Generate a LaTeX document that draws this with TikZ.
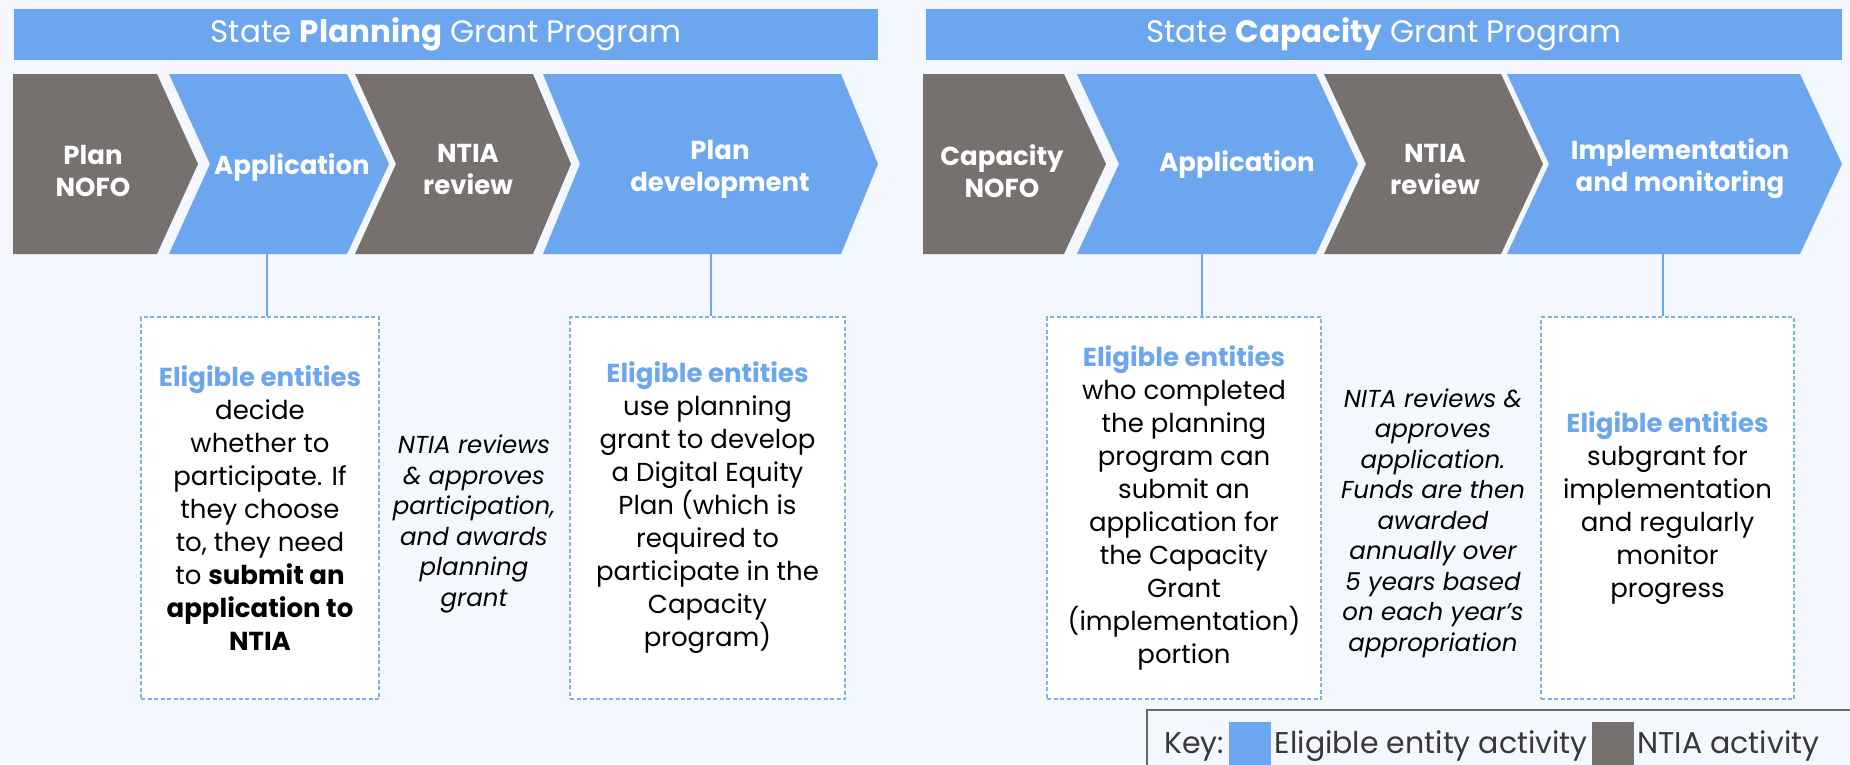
\documentclass[tikz,border=0pt]{standalone}
\usepackage{fontspec}
\setmainfont{Poppins}
\usetikzlibrary{calc}
\definecolor{bgc}{HTML}{F4F7FD}
\definecolor{eblue}{HTML}{6CA6EE}
\definecolor{egray}{HTML}{76716F}
\definecolor{dblue}{HTML}{7DB0EE}
\definecolor{kgray}{HTML}{6B6B6B}
\begin{document}
\begin{tikzpicture}[x=1pt,y=-1pt,
  hdr/.style={fill=eblue,draw=none},
  hdrtxt/.style={text=white,font=\fontsize{31}{34}\selectfont,anchor=center},
  bluechev/.style={fill=eblue,draw=none},
  graychev/.style={fill=egray,draw=none},
  chevtxt/.style={text=white,font=\fontsize{26}{32}\selectfont\bfseries,align=center,inner sep=0pt},
  ebox/.style={draw=dblue,fill=white,dashed,dash pattern=on 4pt off 2.5pt,line width=1.6pt,
     minimum height=382pt,inner sep=0pt,align=center,font=\fontsize{26}{33}\selectfont},
  midtxt/.style={align=center,inner sep=0pt,font=\fontsize{24.5}{30.5}\selectfont\itshape},
  conn/.style={draw=eblue,line width=2.2pt},
  keytxt/.style={font=\fontsize{30}{34}\selectfont,text=black!78,inner sep=0pt,anchor=base west},
  keysq/.style={minimum width=42pt,minimum height=46pt,inner sep=0pt,draw=none,anchor=north west}]
\useasboundingbox (0,0) rectangle (1850,764);
\clip (0,0) rectangle (1850,764);
\fill[bgc] (0,0) rectangle (1850,764);

% headers
\fill[hdr] (14,9) rectangle (878,60);
\fill[hdr] (926,9) rectangle (1842,60);
\node[hdrtxt] (h1) at (446,34) {State \textbf{Planning} Grant Program};
\node[hdrtxt] (h2) at (1384,34) {State \textbf{Capacity} Grant Program};

% left chevrons
\fill[graychev] (13,74) -- (157,74) -- (198,164) -- (157,254) -- (13,254) -- cycle;
\fill[bluechev] (169,74) -- (347,74) -- (389,164) -- (347,254) -- (169,254) -- (210,164) -- cycle;
\fill[graychev] (355,74) -- (533,74) -- (571,164) -- (533,254) -- (355,254) -- (396,164) -- cycle;
\fill[bluechev] (543,74) -- (841,74) -- (878,164) -- (841,254) -- (543,254) -- (580,164) -- cycle;
% right chevrons
\fill[graychev] (923,74) -- (1064,74) -- (1106,164) -- (1064,254) -- (923,254) -- cycle;
\fill[bluechev] (1077,74) -- (1316,74) -- (1358,164) -- (1316,254) -- (1077,254) -- (1119,164) -- cycle;
\fill[graychev] (1324,74) -- (1501,74) -- (1543,164) -- (1501,254) -- (1324,254) -- (1366,164) -- cycle;
\fill[bluechev] (1507,74) -- (1800,74) -- (1842,164) -- (1800,254) -- (1507,254) -- (1549,164) -- cycle;

\node[chevtxt] (pnofo) at (93,171) {Plan\\NOFO};
\node[chevtxt] (papp) at (292,168) {Application};
\node[chevtxt] (prev) at (468,169) {NTIA\\review};
\node[chevtxt] (pdev) at (720,169) {Plan\\development};
\node[chevtxt] (cnofo) at (1002,171) {Capacity\\NOFO};
\node[chevtxt] (capp) at (1237,165) {Application};
\node[chevtxt] (crev) at (1435,169) {NTIA\\review};
\node[chevtxt] (cimp) at (1680,169) {Implementation\\and monitoring};

% boxes
\node[ebox,minimum width=238pt] (b1) at (260,508) {{\color{eblue}\bfseries Eligible entities}\\decide\\whether to\\participate. If\\they choose\\to, they need\\to \textbf{submit an}\\\textbf{application to}\\\textbf{NTIA}};
\node[ebox,minimum width=275pt] (b2) at (707.5,508) {{\color{eblue}\bfseries Eligible entities}\\use planning\\grant to develop\\a Digital Equity\\Plan (which is\\required to\\participate in the\\Capacity\\program)};
\node[ebox,minimum width=274pt] (b3) at (1184,508) {{\color{eblue}\bfseries Eligible entities}\\who completed\\the planning\\program can\\submit an\\application for\\the Capacity\\Grant\\(implementation)\\portion};
\node[ebox,minimum width=253pt] (b4) at (1667.5,508) {{\color{eblue}\bfseries Eligible entities}\\subgrant for\\implementation\\and regularly\\monitor\\progress};

\node[midtxt] (m1) at (474,524) {NTIA reviews\\\& approves\\participation,\\and awards\\planning\\grant};
\node[midtxt] (m2) at (1433,523) {NITA reviews \&\\approves\\application.\\Funds are then\\awarded\\annually over\\5 years based\\on each year's\\appropriation};

% connectors
\coordinate (c1) at (267,254);
\coordinate (c2) at (711,254);
\coordinate (c3) at (1202,254);
\coordinate (c4) at (1663,254);
\draw[conn] (c1) -- (c1 |- b1.north);
\draw[conn] (c2) -- (c2 |- b2.north);
\draw[conn] (c3) -- (c3 |- b3.north);
\draw[conn] (c4) -- (c4 |- b4.north);

% key
\draw[kgray,line width=1.5pt,fill=bgc] (1147,710) rectangle (1900,800);
\node[keytxt] (key) at (1164,753) {Key:};
\node[keysq,fill=eblue] (ksq1) at ($(key.east |- 0,722)+(5,0)$) {};
\node[keytxt] (kel) at ($(ksq1.east |- key.base)+(3,0)$) {Eligible entity activity};
\node[keysq,fill=egray] (ksq2) at ($(kel.east |- 0,722)+(4,0)$) {};
\node[keytxt] (knt) at ($(ksq2.east |- key.base)+(3,0)$) {NTIA activity};
\end{tikzpicture}
\end{document}
